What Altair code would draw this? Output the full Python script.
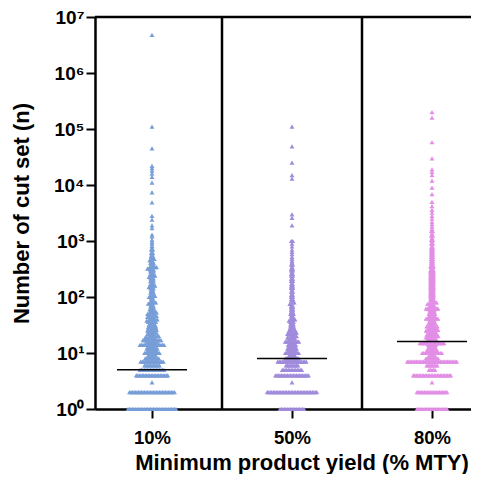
import altair as alt
import pandas as pd
import numpy as np

groups = ["10%", "50%", "80%"]
colors = ["#789ED8", "#A08BDC", "#E28EE6"]
medians = [5, 8, 16]

# value -> number of cut sets observed with that value
counts_10 = {1: 33, 2: 31, 3: 1, 4: 22, 5: 17, 6: 11, 7: 16, 8: 10, 9: 6, 10: 11,
             11: 7, 12: 8, 13: 6, 14: 17, 15: 5, 16: 8, 17: 13, 18: 5, 19: 4, 20: 6,
             21: 3, 22: 4, 23: 3, 24: 5, 25: 3, 26: 4, 27: 2, 28: 4, 29: 2, 30: 4,
             32: 5, 34: 3, 36: 6, 38: 3, 40: 5, 42: 3, 44: 4, 46: 3, 48: 3, 50: 4,
             53: 3, 56: 3, 60: 4, 64: 2, 68: 3, 72: 2, 76: 3, 80: 3, 85: 2, 90: 2,
             96: 2, 100: 3, 105: 2, 112: 2, 120: 3, 128: 2, 136: 2, 144: 3, 152: 2,
             160: 3, 170: 3, 180: 2, 192: 3, 204: 2, 216: 3, 228: 3, 240: 2, 256: 3,
             272: 2, 288: 3, 304: 3, 320: 4, 340: 3, 360: 3, 384: 2, 408: 3, 432: 2,
             456: 2, 480: 2, 512: 2, 544: 2, 576: 1, 608: 2, 640: 1, 700: 2, 760: 1,
             820: 1, 900: 1, 960: 1, 1050: 1, 1200: 1, 1300: 1, 1700: 1, 1900: 1,
             2400: 1, 2800: 1, 4900: 1, 7400: 1, 11000: 1, 14000: 1, 16000: 1,
             18000: 1, 20000: 1, 22000: 1, 45000: 1, 110000: 1, 4800000: 1}

counts_50 = {1: 17, 2: 34, 3: 1, 4: 23, 5: 14, 6: 9, 7: 20, 8: 10, 9: 5, 10: 10,
             11: 6, 12: 7, 13: 5, 14: 6, 15: 4, 16: 10, 17: 4, 18: 5, 19: 3, 20: 4,
             21: 2, 22: 5, 23: 2, 24: 4, 25: 2, 26: 3, 28: 3, 30: 3, 32: 3, 34: 2,
             36: 3, 38: 2, 40: 3, 43: 2, 46: 2, 50: 3, 54: 2, 58: 2, 62: 2, 66: 2,
             70: 2, 75: 2, 80: 2, 86: 2, 92: 2, 100: 2, 108: 2, 116: 1, 125: 2,
             135: 1, 145: 2, 155: 2, 168: 2, 180: 1, 195: 2, 210: 2, 225: 1, 240: 2,
             260: 2, 280: 1, 300: 2, 320: 2, 350: 1, 380: 2, 410: 1, 440: 1, 480: 1,
             520: 1, 580: 1, 640: 1, 700: 1, 800: 1, 900: 1, 1000: 2, 1900: 1,
             2600: 1, 3000: 1, 13000: 1, 15000: 1, 25000: 1, 49000: 1, 110000: 1}

counts_80 = {1: 21, 2: 21, 3: 1, 4: 26, 5: 5, 6: 8, 7: 34, 8: 9, 9: 5, 10: 14,
             11: 8, 12: 6, 13: 5, 14: 6, 15: 17, 16: 8, 17: 5, 18: 6, 19: 4, 20: 5,
             21: 8, 22: 5, 24: 6, 25: 4, 26: 5, 28: 5, 30: 8, 32: 4, 34: 5, 36: 4,
             38: 4, 41: 9, 44: 4, 47: 4, 50: 5, 54: 4, 58: 4, 62: 9, 66: 4, 70: 4,
             75: 4, 80: 3, 86: 3, 92: 3, 100: 3, 108: 3, 116: 3, 125: 3, 135: 3,
             145: 3, 155: 3, 168: 3, 180: 3, 195: 3, 210: 3, 225: 3, 240: 3, 260: 3,
             280: 3, 300: 3, 320: 2, 350: 3, 380: 2, 410: 2, 440: 2, 480: 2, 520: 2,
             560: 2, 600: 2, 650: 2, 700: 2, 760: 2, 820: 1, 900: 2, 980: 1, 1050: 2,
             1150: 1, 1250: 2, 1350: 1, 1500: 2, 1650: 1, 1800: 1, 2000: 1, 2200: 1,
             2500: 1, 2800: 1, 3200: 1, 3600: 1, 4200: 1, 5000: 1, 6900: 1, 9000: 1,
             12000: 1, 15000: 1, 17000: 1, 19000: 1, 30000: 1, 58000: 1, 160000: 1,
             200000: 1}

y_ticks = [1, 10, 100, 1000, 10000, 100000, 1000000, 10000000]

# ---- layout helpers (scatter-dot spreading) ----
W, H = 376, 392
PAD_L, PAD_T, PAD_B = 87, 9, 65
PX_PER_UNIT = 140.0
STEP_PX = 1.5
BIN_DEC = 0.03
x_domain = [-57 / PX_PER_UNIT, (W - 57) / PX_PER_UNIT]

rows = []
for gi, (g, counts) in enumerate(zip(groups, [counts_10, counts_50, counts_80])):
    bins = {}
    for v, c in counts.items():
        k = int(round(np.log10(v) / BIN_DEC))
        bins.setdefault(k, []).extend([v] * c)
    for k, vs in bins.items():
        n = len(vs)
        for i, v in enumerate(vs):
            off = (i - (n - 1) / 2) * STEP_PX / PX_PER_UNIT
            rows.append({"group": g, "x": gi + off, "n": v})
df = pd.DataFrame(rows)

df_med = pd.DataFrame({
    "group": groups,
    "x1": [i - 0.25 for i in range(len(groups))],
    "x2": [i + 0.25 for i in range(len(groups))],
    "median": medians,
})
df_sep = pd.DataFrame({"x": [0.5, 1.5], "y1": [y_ticks[0]] * 2, "y2": [y_ticks[-1]] * 2})
df_top = pd.DataFrame({"y": [y_ticks[-1]]})

FONT = "Liberation Sans"
xs = alt.Scale(domain=x_domain, nice=False, zero=False)
ys = alt.Scale(type="log", domain=[y_ticks[0], y_ticks[-1]], nice=False)

x_label_expr = " : ".join(
    [f"datum.value == {i} ? '{g}'" for i, g in enumerate(groups[:-1])] + [f"'{groups[-1]}'"]
)
y_label_expr = "'10' + ['⁰','¹','²','³','⁴','⁵','⁶','⁷'][round(log(datum.value) / LN10)]"

points = alt.Chart(df).mark_point(
    shape="triangle-up", filled=True, opacity=1, size=24, strokeWidth=0
).encode(
    x=alt.X("x:Q", scale=xs, axis=alt.Axis(
        values=[0, 1, 2], labelExpr=x_label_expr, title="Minimum product yield (% MTY)",
        grid=False, tickSize=9, labelPadding=10, labelFontSize=18.5, titleFontSize=22,
        titleX=206.5, titleY=60, titleAlign="center", titleBaseline="alphabetic")),
    y=alt.Y("n:Q", scale=ys, axis=alt.Axis(
        values=y_ticks, labelExpr=y_label_expr, title="Number of cut set (n)",
        grid=False, tickSize=9, labelPadding=2, labelFontSize=19, titleFontSize=22,
        titleX=-62, titleY=H / 2, titleBaseline="bottom")),
    color=alt.Color("group:N", scale=alt.Scale(domain=groups, range=colors), legend=None),
)

med = alt.Chart(df_med).mark_rule(color="black", strokeWidth=1.5).encode(
    x=alt.X("x1:Q", scale=xs), x2="x2:Q", y=alt.Y("median:Q", scale=ys)
)
sep = alt.Chart(df_sep).mark_rule(color="black", strokeWidth=2.5).encode(
    x=alt.X("x:Q", scale=xs), y=alt.Y("y1:Q", scale=ys), y2="y2:Q"
)
top = alt.Chart(df_top).mark_rule(color="black", strokeWidth=2.5).encode(
    y=alt.Y("y:Q", scale=ys), x=alt.value(0), x2=alt.value(W)
)

chart = alt.layer(points, med, sep, top).properties(
    width=W, height=H,
    autosize=alt.AutoSizeParams(type="none"),
    padding={"left": PAD_L, "top": PAD_T, "right": 0, "bottom": PAD_B},
).configure_view(stroke=None).configure_axis(
    domainColor="black", domainWidth=2.5, tickColor="black", tickWidth=2,
    labelColor="black", titleColor="black", labelFont=FONT, titleFont=FONT,
    labelFontWeight="bold", titleFontWeight="bold",
)

chart.save("out.html", embed_options={"renderer": "svg", "actions": False})
